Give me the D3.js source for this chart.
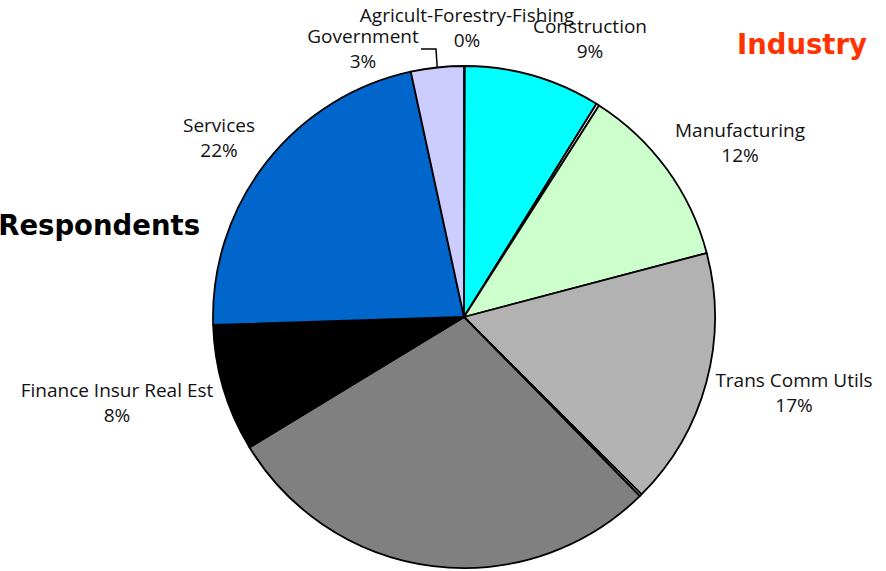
<!DOCTYPE html>
<html>
<head>
<meta charset="utf-8">
<script src="https://cdn.jsdelivr.net/npm/d3@7/dist/d3.min.js"></script>
<style>
  html, body { margin: 0; padding: 0; background: #fff; }
  svg { display: block; }
  .lbl { font-family: "Open Sans", "Noto Sans", sans-serif; font-size: 19px; fill: #111; }
  .ttl { font-family: "DejaVu Sans", "Open Sans", sans-serif; font-weight: 700; font-size: 27.5px; }
</style>
</head>
<body>
<script>
// Industry of respondents, share of total (percent), clockwise from 12 o'clock
const categories = [
  "Agricult-Forestry-Fishing", "Construction", "Mining", "Manufacturing",
  "Trans Comm Utils", "Wholesale Trade", "Retail Trade", "Other",
  "Finance Insur Real Est", "Services", "Government"
];
const shares = [0.05, 8.8, 0.19, 11.86, 16.6, 0.15, 28.65, 0.1, 8.1, 22.1, 3.4];
const colors = [
  "#ffffff", "#00ffff", "#ffffff", "#ccffcc",
  "#b2b2b2", "#ffffff", "#808080", "#ffffff",
  "#000000", "#0066cc", "#ccccff"
];
// Categories whose labels are shown
const labelled = [
  "Agricult-Forestry-Fishing", "Construction", "Manufacturing", "Trans Comm Utils",
  "Finance Insur Real Est", "Services", "Government"
];

const W = 886, H = 571;
const cx = 464, cy = 317, R = 251;

// Label placement: centre x and first-line baseline
const labelPlacement = {
  "Agricult-Forestry-Fishing": [467, 22],
  "Government": [363, 43],
  "Construction": [590, 33],
  "Manufacturing": [740, 137],
  "Trans Comm Utils": [794, 387],
  "Finance Insur Real Est": [117, 397],
  "Services": [219, 132]
};
const lineGap = 25;

const svg = d3.select("body").append("svg")
  .attr("width", W).attr("height", H)
  .attr("viewBox", [0, 0, W, H]);

const data = categories.map((c, i) => ({ name: c, value: shares[i], color: colors[i] }));
const total = d3.sum(data, d => d.value);

const pie = d3.pie().sort(null).value(d => d.value).startAngle(0).endAngle(2 * Math.PI);
const arcs = pie(data);
const arc = d3.arc().innerRadius(0).outerRadius(R);

const g = svg.append("g").attr("transform", `translate(${cx},${cy})`);
g.selectAll("path")
  .data(arcs)
  .join("path")
  .attr("d", arc)
  .attr("fill", d => d.data.color)
  .attr("stroke", "#000")
  .attr("stroke-width", 1.8)
  .attr("stroke-linejoin", "round");

const pct = v => Math.round(v / total * 100) + "%";

const labels = svg.append("g");
arcs.filter(a => labelled.includes(a.data.name)).forEach(a => {
  const [x, y] = labelPlacement[a.data.name];
  const t = labels.append("text").attr("class", "lbl").attr("text-anchor", "middle");
  t.append("tspan").attr("x", x).attr("y", y).text(a.data.name);
  t.append("tspan").attr("x", x).attr("y", y + lineGap).text(pct(a.data.value));

  // leader line for the label moved away from its slice
  if (a.data.name === "Government") {
    const first = t.select("tspan").node().getBBox();
    const mid = (a.startAngle + a.endAngle) / 2;
    const ex = cx + R * Math.sin(mid), ey = cy - R * Math.cos(mid);
    const sx = first.x + first.width + 2, sy = y + 6;
    svg.append("path")
      .attr("d", `M${sx},${sy}H${sx + 15}L${ex},${ey}`)
      .attr("fill", "none").attr("stroke", "#000").attr("stroke-width", 1.5);
  }
});

svg.append("text").attr("class", "ttl")
  .attr("x", 867).attr("y", 54).attr("text-anchor", "end")
  .attr("fill", "#ff3300").text("Industry");
svg.append("text").attr("class", "ttl")
  .attr("x", 200).attr("y", 235).attr("text-anchor", "end")
  .attr("fill", "#000").text("Respondents");
</script>
</body>
</html>
